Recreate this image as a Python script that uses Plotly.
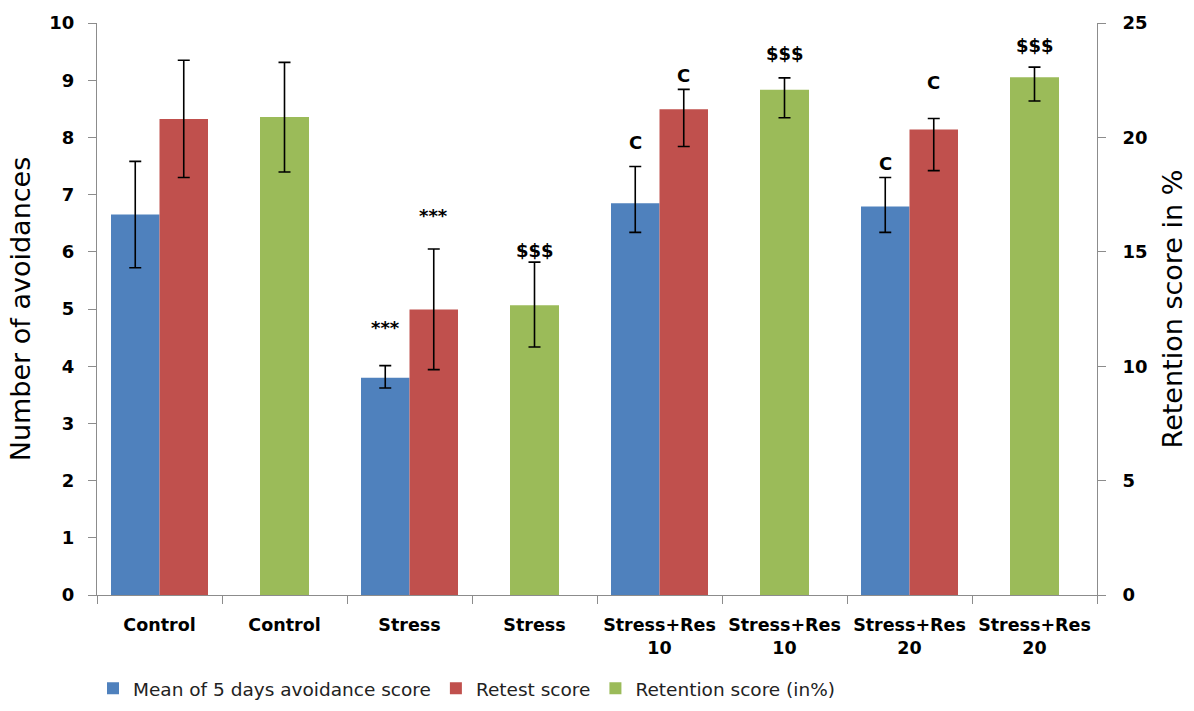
import plotly.graph_objects as go

# Groups along the x axis (each group holds either the two score bars or the retention bar)
groups = ["Control", "Control", "Stress", "Stress",
          "Stress+Res<br>10", "Stress+Res<br>10", "Stress+Res<br>20", "Stress+Res<br>20"]

# Mean of 5 days avoidance score (left axis)
avoid_mean = [6.65, None, 3.80, None, 6.85, None, 6.79, None]
avoid_err_up = [0.93, None, 0.21, None, 0.64, None, 0.51, None]
avoid_err_dn = [0.93, None, 0.18, None, 0.51, None, 0.45, None]

# Retest score (left axis)
retest = [8.32, None, 4.99, None, 8.49, None, 8.14, None]
retest_err_up = [1.03, None, 1.06, None, 0.35, None, 0.19, None]
retest_err_dn = [1.02, None, 1.05, None, 0.65, None, 0.72, None]

# Retention score in % (right axis)
retention = [None, 20.89, None, 12.66, None, 22.08, None, 22.63]
retention_err_up = [None, 2.39, None, 1.89, None, 0.52, None, 0.44]
retention_err_dn = [None, 2.40, None, 1.82, None, 1.22, None, 1.04]

# Significance marks: (group index, series, text)
marks = [(2, "avoid", "***"), (2, "retest", "***"), (3, "retention", "$$$"),
         (4, "avoid", "C"), (4, "retest", "C"), (5, "retention", "$$$"),
         (6, "avoid", "C"), (6, "retest", "C"), (7, "retention", "$$$")]
mark_shift = [38, 33, 12, 24, 14, 24, 14, 36, 22]

BLUE, RED, GREEN = "#4F81BD", "#C0504D", "#9BBB59"
FONT = "DejaVu Sans"
BW = 0.388
pos = list(range(len(groups)))

fig = go.Figure()


def err(up, dn):
    return dict(type="data", symmetric=False, array=up, arrayminus=dn,
                color="black", thickness=1.6, width=6)


fig.add_trace(go.Bar(x=pos, y=avoid_mean, name="Mean of 5 days avoidance score",
                     marker=dict(color=BLUE, line=dict(width=0)),
                     offset=-BW, width=BW, error_y=err(avoid_err_up, avoid_err_dn)))
fig.add_trace(go.Bar(x=pos, y=retest, name="Retest score",
                     marker=dict(color=RED, line=dict(width=0)),
                     offset=0, width=BW, error_y=err(retest_err_up, retest_err_dn)))
fig.add_trace(go.Bar(x=pos, y=retention, name="Retention score (in%)", yaxis="y2",
                     marker=dict(color=GREEN, line=dict(width=0)),
                     offset=-0.196, width=0.392,
                     error_y=err(retention_err_up, retention_err_dn)))

series = {
    "avoid": (avoid_mean, avoid_err_up, -BW / 2, "y"),
    "retest": (retest, retest_err_up, BW / 2, "y"),
    "retention": (retention, retention_err_up, 0.0, "y2"),
}
for (gi, key, txt), shift in zip(marks, mark_shift):
    vals, ups, dx, yref = series[key]
    fig.add_annotation(x=gi + dx, y=vals[gi] + ups[gi], xref="x", yref=yref,
                       text=txt, showarrow=False, yshift=shift,
                       font=dict(family=FONT, size=18, color="black", weight="bold"))

AXIS_GREY = "#8c8c8c"
TICKFONT = dict(family=FONT, size=18, color="black", weight="bold")
fig.update_layout(
    width=1194, height=711,
    margin=dict(l=97, r=97, t=23, b=116, autoexpand=False),
    paper_bgcolor="white", plot_bgcolor="white",
    barmode="overlay",
    font=dict(family=FONT, color="black"),
    xaxis=dict(range=[-0.5, 7.5], tickmode="array", tickvals=pos, ticktext=groups,
               ticks="", showline=True, linecolor=AXIS_GREY, linewidth=1,
               showgrid=False, zeroline=False, ticklabelstandoff=14, automargin=False,
               tickfont=dict(family=FONT, size=17.5, color="black", weight="bold"),
               minor=dict(tickmode="array", tickvals=[p - 0.5 for p in pos] + [7.5],
                          ticks="outside", ticklen=8, tickcolor=AXIS_GREY, showgrid=False)),
    yaxis=dict(range=[0, 10], dtick=1, ticks="outside", ticklen=8, tickcolor=AXIS_GREY,
               showline=True, linecolor=AXIS_GREY, linewidth=1, showgrid=False,
               zeroline=False, tickfont=TICKFONT, ticklabelstandoff=10, automargin=False,
               title=dict(text="Number of avoidances", font=dict(family=FONT, size=27),
                          standoff=10)),
    yaxis2=dict(range=[0, 25], dtick=5, overlaying="y", side="right", ticks="outside",
                ticklen=8, tickcolor=AXIS_GREY, showline=True, linecolor=AXIS_GREY,
                linewidth=1, showgrid=False, zeroline=False, tickfont=TICKFONT,
                ticklabelstandoff=13, automargin=False,
                title=dict(text="Retention score in %", font=dict(family=FONT, size=27),
                           standoff=16)),
    legend=dict(orientation="h", x=-0.004, xanchor="left", y=-0.164, yanchor="middle",
                font=dict(family=FONT, size=18.5, color="#222"), traceorder="normal",
                itemwidth=30),
    showlegend=True,
)

fig.write_html("out.html")
